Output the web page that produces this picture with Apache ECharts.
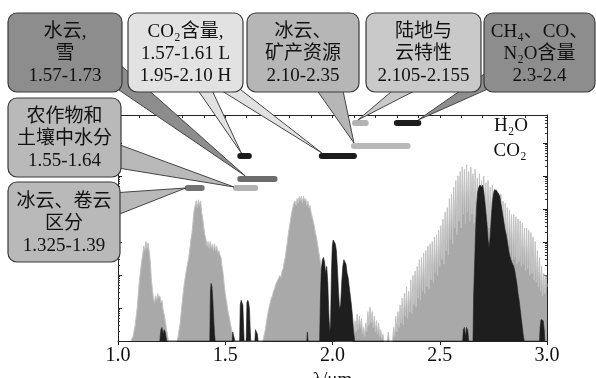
<!DOCTYPE html>
<html>
<head>
<meta charset="utf-8">
<script src="https://cdn.jsdelivr.net/npm/echarts@6/dist/echarts.min.js"></script>
<style>
  html, body { margin: 0; padding: 0; background: #fff; }
  #chart { width: 596px; height: 378px; }
</style>
</head>
<body>
<div id="chart"></div>
<script>
// H2O absorption spectrum: [wavelength um, relative height 0-100]
const h2o = [
  [1.06,0],[1.07,2],[1.08,7],[1.09,15],[1.10,27],[1.105,31],[1.11,35],[1.115,38],[1.12,42],[1.125,40],
  [1.13,44],[1.135,41],[1.14,43.5],[1.145,40],[1.15,36],[1.155,28],[1.16,23],[1.165,19],[1.17,17],[1.175,20],
  [1.18,18],[1.185,21],[1.19,19],[1.195,20],[1.20,17],[1.205,18],[1.21,14],[1.215,12],[1.22,9],[1.225,6],
  [1.23,3],[1.235,0],
  [1.275,0],[1.28,2],[1.29,8],[1.30,18],[1.31,26],[1.32,32],[1.33,37],[1.335,41],[1.34,45],[1.345,48],
  [1.35,53],[1.355,58],[1.36,60],[1.365,62],[1.37,59],[1.375,62.5],[1.38,60],[1.385,62],[1.39,57],[1.395,54],
  [1.40,50],[1.405,47],[1.41,45],[1.415,42],[1.42,44],[1.425,41],[1.43,44],[1.435,41],[1.44,43],[1.445,40],
  [1.45,43],[1.455,40],[1.46,42],[1.465,39],[1.47,40],[1.475,38],[1.48,37],[1.485,33],[1.49,30],[1.495,25],
  [1.50,21],[1.505,18],[1.51,15],[1.515,12],[1.52,10],[1.525,7],[1.53,5],[1.535,2],[1.54,0],
  [1.675,0],[1.68,2],[1.685,4],[1.69,7],[1.695,10],[1.70,13],[1.705,15],[1.71,17],[1.715,19],[1.72,20],
  [1.725,22],[1.73,23],[1.735,25],[1.74,25],[1.745,27],[1.75,27],[1.755,29],[1.76,28],[1.765,31],[1.77,32],
  [1.775,35],[1.78,37],[1.785,41],[1.79,44],[1.795,48],[1.80,51],[1.805,54],[1.81,57],[1.815,59],[1.82,61],
  [1.825,62],[1.83,60],[1.835,63],[1.84,61],[1.845,64],[1.85,62],[1.855,64],[1.86,61],[1.865,64],[1.87,62],
  [1.875,63],[1.88,60],[1.885,62],[1.89,59],[1.895,60],[1.90,57],[1.905,57],[1.91,53],[1.915,51],[1.92,48],
  [1.925,46],[1.93,43],[1.935,40],[1.94,37],[1.945,34],[1.95,31],[1.955,27],[1.96,23],[1.97,16],[1.98,10],
  [1.99,5],[2.00,2],[2.01,0],
  [2.095,0],[2.10,2],[2.105,9],[2.11,4],[2.115,12],[2.12,5],[2.125,11],[2.13,6],[2.135,10],[2.14,3],
  [2.145,6],[2.15,2],[2.155,8],[2.16,4],[2.165,13],[2.17,7],[2.175,15],[2.18,8],[2.185,13],[2.19,6],
  [2.195,11],[2.20,4],[2.205,9],[2.21,3],[2.215,8],[2.22,2],[2.225,5],[2.23,1],[2.235,3],[2.24,0],
  [2.255,0],[2.26,4],[2.265,0],[2.28,0],[2.285,6],[2.29,2],[2.295,11],
  [2.30,4],[2.305,13],[2.31,6],[2.315,16],[2.32,8],[2.325,19],[2.33,7],[2.335,21],[2.34,11],[2.345,24],
  [2.35,10],[2.355,22],[2.36,13],[2.365,27],[2.37,12],[2.375,29],[2.38,16],[2.385,31],[2.39,15],[2.395,33],
  [2.40,19],[2.405,36],[2.41,18],[2.415,37],[2.42,22],[2.425,39],[2.43,21],[2.435,40],[2.44,24],[2.445,42],
  [2.45,23],[2.455,43],[2.46,27],[2.465,44],[2.47,26],[2.475,46],[2.48,30],[2.485,47],[2.49,29],[2.495,49],
  [2.50,33],[2.505,51],[2.51,36],[2.515,54],[2.52,34],[2.525,57],[2.53,40],[2.535,59],[2.54,38],[2.545,63],
  [2.55,45],[2.555,65],[2.56,43],[2.565,68],[2.57,50],[2.575,71],[2.58,47],[2.585,73],[2.59,53],[2.595,75],
  [2.60,50],[2.605,77],[2.61,56],[2.615,76],[2.62,52],[2.625,78],[2.63,57],[2.635,75],[2.64,53],[2.645,77],
  [2.65,56],[2.655,74],[2.66,52],[2.665,76],[2.67,55],[2.675,72],[2.68,51],[2.685,74],[2.69,54],[2.695,71],
  [2.70,50],[2.705,73],[2.71,52],[2.715,70],[2.72,48],[2.725,71],[2.73,50],[2.735,68],[2.74,46],[2.745,69],
  [2.75,48],[2.755,66],[2.76,44],[2.765,67],[2.77,45],[2.775,64],[2.78,42],[2.785,65],[2.79,43],[2.795,62],
  [2.80,40],[2.805,61],[2.81,41],[2.815,59],[2.82,38],[2.825,58],[2.83,39],[2.835,56],[2.84,36],[2.845,56],
  [2.85,37],[2.855,55],[2.86,34],[2.865,54],[2.87,35],[2.875,53],[2.88,33],[2.885,52],[2.89,34],[2.895,50],
  [2.90,31],[2.905,50],[2.91,32],[2.915,49],[2.92,29],[2.925,48],[2.93,30],[2.935,46],[2.94,27],[2.945,44],
  [2.95,26],[2.955,40],[2.96,24],[2.965,37],[2.97,22],[2.975,33],[2.98,20],[2.985,30],[2.99,21],[2.995,29],
  [3.00,24]
];

// CO2 absorption spectrum: [wavelength um, relative height 0-100]
const co2 = [
  [1.195,0],[1.20,5],[1.205,6],[1.21,3],[1.215,5],[1.22,4],[1.227,0],
  [1.428,0],[1.431,22],[1.434,25.5],[1.438,24],[1.442,18],[1.446,10],[1.45,3],[1.453,0],
  [1.532,0],[1.535,4],[1.54,3.5],[1.545,0],
  [1.567,0],[1.570,16],[1.574,18],[1.578,17],[1.582,16],[1.585,8],[1.588,0],
  [1.598,0],[1.601,17],[1.605,18],[1.609,17],[1.613,14],[1.616,6],[1.619,0],
  [1.638,0],[1.641,5],[1.646,4.5],[1.65,3],[1.653,0],
  [1.880,0],[1.883,4],[1.886,0],
  [1.940,0],[1.944,20],[1.948,32],[1.953,36],[1.958,37],[1.963,35],[1.968,30],[1.973,33],[1.978,26],[1.983,12],
  [1.987,3],[1.991,8],[1.995,30],[1.999,42],[2.003,44.7],[2.008,44],[2.013,43],[2.018,40],[2.023,32],[2.028,22],
  [2.033,14],[2.038,16],[2.043,26],[2.048,33],[2.053,36],[2.058,35],[2.063,34],[2.068,30],[2.073,28],[2.078,24],
  [2.083,20],[2.088,16],[2.093,11],[2.098,5],[2.103,0],
  [2.607,0],[2.61,5],[2.615,6],[2.62,2],[2.625,6],[2.63,5],[2.635,0],
  [2.655,0],[2.658,20],[2.662,32],[2.667,48],[2.672,60],[2.677,66],[2.682,68],[2.688,69],[2.695,68],[2.70,69],
  [2.705,66],[2.71,62],[2.715,57],[2.72,52],[2.725,45],[2.73,41],[2.735,46],[2.74,54],[2.745,61],[2.75,65],
  [2.755,67],[2.76,67],[2.765,66.5],[2.77,66],[2.775,65],[2.78,64],[2.785,61],[2.79,58],[2.795,55],[2.80,52],
  [2.805,49],[2.81,47],[2.815,44],[2.82,41],[2.825,38],[2.83,36.5],[2.835,35],[2.84,34],[2.845,33],[2.85,31],
  [2.855,28],[2.86,25],[2.865,21],[2.87,18],[2.875,14],[2.88,10],[2.885,6],[2.89,2],[2.894,0],
  [2.965,0],[2.968,6],[2.972,9.5],[2.977,10],[2.982,9],[2.987,5],[2.99,0]
];

// wavelength ranges of the channels [start, end]
const ranges = [
  [1.325, 1.39], [1.55, 1.64], [1.57, 1.73], [1.57, 1.61],
  [1.95, 2.10], [2.10, 2.35], [2.105, 2.155], [2.3, 2.4]
];
// drawing height and colour of each range bar
const rangeLevels = [67.7, 67.7, 71.7, 81.9, 81.9, 86.3, 96.5, 96.5];
const rangeColors = ['#737373', '#b3b3b3', '#6c6c6c', '#1c1c1c', '#1c1c1c', '#b8b8b8', '#b3b3b3', '#1c1c1c'];

const serif = 'Liberation Serif, DejaVu Serif, Noto Sans CJK SC, serif';

const chart = echarts.init(document.getElementById('chart'));

const tickAxis = (pos) => ({
  type: 'value', min: 1, max: 3, interval: 0.1, position: pos,
  axisLine: { show: pos === 'top', onZero: false, lineStyle: { color: '#222', width: 1 } },
  axisTick: { show: true, inside: true, length: 3, lineStyle: { color: '#222' } },
  axisLabel: { show: false },
  splitLine: { show: false }
});

const logAxis = (pos) => ({
  type: 'log', min: 1, max: 7e6, position: pos,
  axisLine: { show: true, onZero: false, lineStyle: { color: '#222', width: 1 } },
  axisTick: { show: true, inside: true, length: 4, lineStyle: { color: '#222' } },
  minorTick: { show: true, splitNumber: 9, length: 2, lineStyle: { color: '#333' } },
  axisLabel: { show: false },
  splitLine: { show: false }
});

chart.setOption({
  animation: false,
  textStyle: { fontFamily: serif },
  grid: { left: 118, right: 49, top: 115, bottom: 37, containLabel: false, outerBoundsMode: 'none' },
  xAxis: [
    {
      type: 'value', min: 1, max: 3, interval: 0.5, position: 'bottom',
      axisLine: { show: true, onZero: false, lineStyle: { color: '#222', width: 1 } },
      axisTick: { show: true, inside: false, length: 4, lineStyle: { color: '#222' } },
      axisLabel: { fontFamily: serif, fontSize: 20, color: '#111', margin: 5, formatter: (v) => v.toFixed(1) },
      splitLine: { show: false },
      name: 'λ/μm', nameLocation: 'middle', nameGap: 23,
      nameTextStyle: { fontFamily: serif, fontSize: 19, color: '#111' }
    },
    tickAxis('bottom'),
    tickAxis('top')
  ],
  yAxis: [
    { type: 'value', min: 0, max: 100, show: false },
    logAxis('left'),
    logAxis('right')
  ],
  series: [
    {
      name: 'H2O', type: 'line', data: h2o, symbol: 'none',
      lineStyle: { color: '#c2c2c2', width: 1 },
      areaStyle: { color: '#a9a9a9', opacity: 1 },
      z: 2
    },
    {
      name: 'CO2', type: 'line', data: co2, symbol: 'none',
      lineStyle: { color: '#1e1e1e', width: 0.6 },
      areaStyle: { color: '#1e1e1e', opacity: 1 },
      z: 3
    },
    {
      name: 'ranges', type: 'custom', z: 4,
      data: ranges.map((r, i) => [r[0], r[1], rangeLevels[i]]),
      renderItem: (params, api) => {
        const a = api.coord([api.value(0), api.value(2)]);
        const b = api.coord([api.value(1), api.value(2)]);
        return {
          type: 'line',
          shape: { x1: a[0], y1: a[1], x2: b[0], y2: b[1] },
          style: { stroke: rangeColors[params.dataIndex], lineWidth: 6, lineCap: 'round' }
        };
      }
    }
  ]
});

// callout boxes, each tail points at one end of a range bar
const callouts = [
  { text: '水云,\n雪\n1.57-1.73', box: [8, 13, 114, 79], fill: '#8d8d8d',
    tails: [{ base: [[117, 62], [119, 90]], range: 2, end: 0, off: [5, -3] }] },
  { text: 'CO₂含量,\n1.57-1.61 L\n1.95-2.10 H', box: [128, 13, 115, 79], fill: '#e2e2e2',
    tails: [{ base: [[195, 86], [210, 86]], range: 3, end: 0, off: [1, -3] },
            { base: [[214, 86], [236, 86]], range: 4, end: 0, off: [0, -3] }] },
  { text: '冰云、\n矿产资源\n2.10-2.35', box: [247, 13, 112, 79], fill: '#b6b6b6',
    tails: [{ base: [[314, 86], [342, 86]], range: 5, end: 0, off: [0, -3] }] },
  { text: '陆地与\n云特性\n2.105-2.155', box: [366, 13, 115, 79], fill: '#c9c9c9',
    tails: [{ base: [[398, 86], [424, 86]], range: 6, end: 0, off: [3, -3] }] },
  { text: 'CH₄、CO、\nN₂O含量\n2.3-2.4', box: [484, 13, 111, 79], fill: '#8d8d8d',
    tails: [{ base: [[490, 70], [490, 88]], range: 7, end: 1, off: [0, -3] }] },
  { text: '农作物和\n土壤中水分\n1.55-1.64', box: [8, 98, 113, 79], fill: '#b9b9b9',
    tails: [{ base: [[112, 142], [112, 167]], range: 1, end: 0, off: [-2, -1] }] },
  { text: '冰云、卷云\n区分\n1.325-1.39', box: [8, 182, 112, 80], fill: '#b9b9b9',
    tails: [{ base: [[112, 193], [112, 217]], range: 0, end: 0, off: [-2, 0] }] }
];

const px = (x, y) => chart.convertToPixel({ xAxisIndex: 0, yAxisIndex: 0 }, [x, y]);
const elements = [];
callouts.forEach((c) => {
  c.tails.forEach((t) => {
    const p = px(ranges[t.range][t.end], rangeLevels[t.range]);
    elements.push({
      type: 'polygon', z: 50,
      shape: { points: [t.base[0], t.base[1], [p[0] + t.off[0], p[1] + t.off[1]]] },
      style: { fill: c.fill, stroke: '#444', lineWidth: 1 }
    });
  });
});
callouts.forEach((c) => {
  elements.push({
    type: 'rect', z: 60,
    shape: { x: c.box[0], y: c.box[1], width: c.box[2], height: c.box[3], r: 9 },
    style: { fill: c.fill, stroke: '#3a3a3a', lineWidth: 1.2 }
  });
  elements.push({
    type: 'text', z: 61,
    style: {
      text: c.text, x: c.box[0] + c.box[2] / 2, y: c.box[1] + c.box[3] / 2 + 2,
      align: 'center', verticalAlign: 'middle',
      fontSize: 19, fontFamily: serif, lineHeight: 22, fill: '#111'
    }
  });
});
// species labels
elements.push({ type: 'text', z: 61, style: { text: 'H₂O', x: 511, y: 126, align: 'center', verticalAlign: 'middle', fontSize: 19, fontFamily: serif, fill: '#111' } });
elements.push({ type: 'text', z: 61, style: { text: 'CO₂', x: 510, y: 151, align: 'center', verticalAlign: 'middle', fontSize: 19, fontFamily: serif, fill: '#111' } });

chart.setOption({ graphic: elements });
</script>
</body>
</html>
